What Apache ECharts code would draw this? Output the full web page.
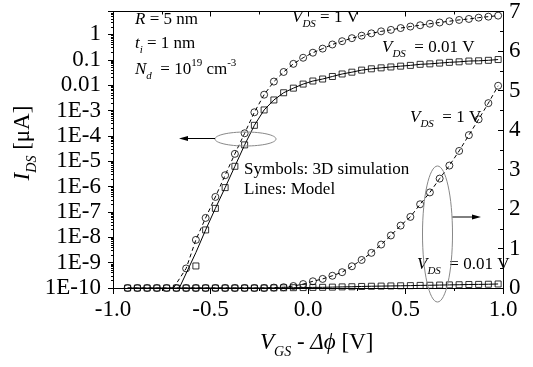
<!DOCTYPE html>
<html><head><meta charset="utf-8">
<script src="https://cdn.jsdelivr.net/npm/echarts@6/dist/echarts.min.js"></script>
<style>html,body{margin:0;padding:0;background:#fff}#c{width:533px;height:367px}</style>
</head><body><div id="c"></div>
<script>
// gate voltage samples (V_GS - delta phi)
const vgs = [-0.975,-0.925,-0.875,-0.825,-0.775,-0.725,-0.675,-0.625,-0.575,-0.525,
  -0.475,-0.425,-0.375,-0.325,-0.275,-0.225,-0.175,-0.125,-0.075,-0.025,
  0.025,0.075,0.125,0.175,0.225,0.275,0.325,0.375,0.425,0.475,
  0.525,0.575,0.625,0.675,0.725,0.775,0.825,0.875,0.925,0.975];
// 3D simulation, log (left) axis, uA
const simLog1V = [null,null,null,null,null,null,null,5.9e-10,7.9e-9,5.8e-8,
  3.9e-7,2.8e-6,1.95e-5,1.26e-4,8.5e-4,4.2e-3,0.0138,0.033,0.069,0.12,
  0.19,0.275,0.40,0.54,0.71,0.89,1.10,1.32,1.51,1.78,
  2.04,2.29,2.63,2.95,3.31,3.72,4.07,4.57,5.01,5.50];
const simLog001V = [null,null,null,null,null,null,null,null,7.4e-10,1.95e-8,
  1.38e-7,9.1e-7,6.3e-6,4.4e-5,2.6e-4,1.05e-3,2.6e-3,5.0e-3,7.6e-3,0.011,
  0.0145,0.0174,0.0219,0.0275,0.0324,0.039,0.044,0.048,0.052,0.056,
  0.060,0.066,0.069,0.074,0.079,0.083,0.089,0.091,0.095,0.102];
// 3D simulation, linear (right) axis, uA
const simLin1V = [null,0,0,0,0,0,0,0,0,0,
  0,0,0,0,0,0,0.01,0.02,0.05,0.10,
  0.17,0.23,0.31,0.40,0.55,0.71,0.89,1.10,1.33,1.58,
  1.80,2.12,2.42,2.77,3.10,3.47,3.87,4.27,4.68,5.12];
const simLin001V = [null,0,0,0,0,0,0,0,0,0,
  0,0,0,0,0,0.001,0.003,0.005,0.008,0.011,
  0.015,0.017,0.022,0.028,0.032,0.039,0.044,0.048,0.052,0.056,
  0.060,0.066,0.069,0.074,0.079,0.083,0.089,0.091,0.095,0.102];
// model curves
const modelStart1V = [-0.69, 1e-10];
const modelStart001V = [-0.66, 1e-10];
const modelLog1V = simLog1V;
const modelLog001V = [null,null,null,null,null,null,null,null,2.5e-9,1.95e-8,
  1.38e-7,9.1e-7,6.3e-6,4.4e-5,2.6e-4,1.05e-3,2.6e-3,5.0e-3,7.6e-3,0.011,
  0.0145,0.0174,0.0219,0.0275,0.0324,0.039,0.044,0.048,0.052,0.056,
  0.060,0.066,0.069,0.074,0.079,0.083,0.089,0.091,0.095,0.102];

function pairs(xs, ys){ const r=[]; for(let i=0;i<xs.length;i++){ if(ys[i]!=null) r.push([xs[i],ys[i]]); } return r; }
function logLabel(v){
  const l=Math.log10(v), e=Math.round(l);
  if(Math.abs(l-e)>1e-6) return '';
  if(e===0) return '1'; if(e===-1) return '0.1'; if(e===-2) return '0.01';
  return '1E'+e;
}
const F='Liberation Serif';
const axisFont={fontFamily:F,fontSize:23,color:'#000'};
const blk={color:'#000',width:1};
const mk=(sym,size)=>({type:'scatter',symbol:sym,symbolSize:size,itemStyle:{color:'rgba(0,0,0,0)',borderColor:'#000',borderWidth:1},z:3});
const ln=(dash)=>({type:'line',symbol:'none',showSymbol:false,lineStyle:{color:'#000',width:1,type:dash?[4,3]:'solid'},z:4});

const rich17={
  n:{fontFamily:F,fontSize:17,lineHeight:24,color:'#000'},
  ni:{fontFamily:F,fontSize:17,lineHeight:24,fontStyle:'italic',color:'#000'},
  si:{fontFamily:F,fontSize:11,lineHeight:11,fontStyle:'italic',verticalAlign:'bottom',color:'#000'},
  sup:{fontFamily:F,fontSize:11,lineHeight:11,verticalAlign:'top',color:'#000'}
};
const rich23={
  n:{fontFamily:F,fontSize:23,lineHeight:32,color:'#000'},
  ni:{fontFamily:F,fontSize:23,lineHeight:32,fontStyle:'italic',color:'#000'},
  si:{fontFamily:F,fontSize:14,lineHeight:14,fontStyle:'italic',verticalAlign:'bottom',color:'#000'}
};
function txt(x,y,text,rich,align,rot){
  return {type:'text',x:x,y:y,z:10,rotation:rot||0,style:{text:text,rich:rich,align:align||'left',verticalAlign:'middle',fill:'#000'}};
}

const chart=echarts.init(document.getElementById('c'));
chart.setOption({
  animation:false,
  backgroundColor:'#fff',
  grid:{left:113,right:30,top:9,bottom:79},
  xAxis:[
    {type:'value',min:-1,max:1,interval:0.5,position:'bottom',
     axisLine:{onZero:false,lineStyle:blk},axisTick:{length:6,lineStyle:blk},
     minorTick:{show:true,splitNumber:2,length:3,lineStyle:blk},
     splitLine:{show:false},
     axisLabel:Object.assign({margin:10,formatter:v=>v.toFixed(1)},axisFont)},
    {type:'value',min:-1,max:1,interval:0.5,position:'top',
     axisLine:{onZero:false,lineStyle:blk},axisTick:{inside:true,length:5,lineStyle:blk},
     minorTick:{show:true,splitNumber:2,length:3,lineStyle:blk},
     splitLine:{show:false},axisLabel:{show:false}}
  ],
  yAxis:[
    {type:'log',logBase:10,min:1e-10,max:8,interval:1,position:'left',
     axisLine:{show:true,onZero:false,lineStyle:blk},axisTick:{length:5,lineStyle:blk},
     minorTick:{show:true,splitNumber:9,length:2,lineStyle:blk},
     splitLine:{show:false},
     axisLabel:Object.assign({margin:12,formatter:logLabel,showMaxLabel:false},axisFont)},
    {type:'value',min:0,max:7,interval:1,position:'right',
     axisLine:{show:true,onZero:false,lineStyle:blk},axisTick:{inside:true,length:5,lineStyle:blk},
     minorTick:{show:true,splitNumber:2,length:3,lineStyle:blk},
     splitLine:{show:false},
     axisLabel:Object.assign({margin:6},axisFont)}
  ],
  series:[
    Object.assign(mk('circle',7),{yAxisIndex:0,data:pairs(vgs,simLog1V)}),
    Object.assign(mk('rect',6),{yAxisIndex:0,data:pairs(vgs,simLog001V)}),
    Object.assign(ln(true),{yAxisIndex:0,data:[modelStart1V].concat(pairs(vgs,modelLog1V))}),
    Object.assign(ln(false),{yAxisIndex:0,data:[modelStart001V].concat(pairs(vgs,modelLog001V))}),
    Object.assign(mk('circle',7),{yAxisIndex:1,data:pairs(vgs,simLin1V)}),
    Object.assign(mk('rect',6),{yAxisIndex:1,data:pairs(vgs,simLin001V)}),
    Object.assign(ln(true),{yAxisIndex:1,data:pairs(vgs,simLin1V)}),
    Object.assign(ln(false),{yAxisIndex:1,data:pairs(vgs,simLin001V)})
  ],
  graphic:[
    txt(135,20,'{ni|R}{n| = 5 nm}',rich17),
    txt(135,44,'{ni|t}{si|i}{n| = 1 nm}',rich17),
    txt(135,70,'{ni|N}{si|d}{n|  = 10}{sup|19}{n| cm}{sup|-3}',rich17),
    txt(292,18,'{ni|V}{si|DS}{n| = 1 V}',rich17),
    txt(382,48,'{ni|V}{si|DS}{n|  = 0.01 V}',rich17),
    txt(410,118,'{ni|V}{si|DS}{n|  = 1 V}',rich17),
    txt(417,265,'{ni|V}{si|DS}{n|  = 0.01 V}',rich17),
    txt(244,170,'{n|Symbols: 3D simulation}',rich17),
    txt(244,190,'{n|Lines: Model}',rich17),
    txt(260,343,'{ni|V}{si|GS}{n| - }{ni|Δϕ}{n| [V]}',rich23),
    txt(23,143,'{ni|I}{si|DS}{n| [μA]}',rich23,'center',Math.PI/2),
    {type:'ellipse',z:11,shape:{cx:245.5,cy:139,rx:30.5,ry:7},style:{fill:'none',stroke:'#888',lineWidth:1}},
    {type:'line',z:11,shape:{x1:215,y1:138.5,x2:185,y2:138.5},style:{stroke:'#000',lineWidth:1}},
    {type:'polygon',z:11,shape:{points:[[179,138.5],[188,136],[188,141]]},style:{fill:'#000'}},
    {type:'ellipse',z:11,shape:{cx:437.5,cy:234,rx:15,ry:68},style:{fill:'none',stroke:'#888',lineWidth:1}},
    {type:'line',z:11,shape:{x1:452.5,y1:217,x2:474,y2:217},style:{stroke:'#000',lineWidth:1}},
    {type:'polygon',z:11,shape:{points:[[481,217],[472,214.5],[472,219.5]]},style:{fill:'#000'}}
  ]
});
</script></body></html>
